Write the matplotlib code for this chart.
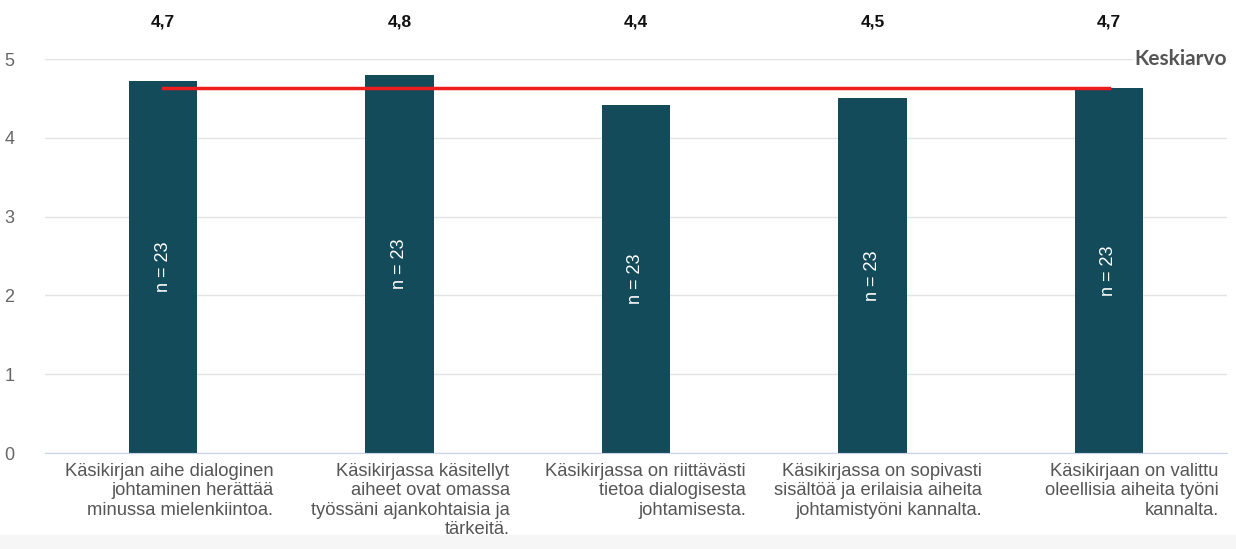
import matplotlib.pyplot as plt
from matplotlib.patches import Rectangle
import numpy as np

# --- DATA ---
kysymykset = [
    "Käsikirjan aihe dialoginen\njohtaminen herättää\nminussa mielenkiintoa.",
    "Käsikirjassa käsitellyt\naiheet ovat omassa\ntyössäni ajankohtaisia ja\ntärkeitä.",
    "Käsikirjassa on riittävästi\ntietoa dialogisesta\njohtamisesta.",
    "Käsikirjassa on sopivasti\nsisältöä ja erilaisia aiheita\njohtamistyöni kannalta.",
    "Käsikirjaan on valittu\noleellisia aiheita työni\nkannalta.",
]
arvot = [4.72, 4.80, 4.42, 4.51, 4.63]
arvo_tekstit = ["4,7", "4,8", "4,4", "4,5", "4,7"]
n_vastaajat = [23, 23, 23, 23, 23]
keskiarvo = 4.63

plt.rcParams['font.family'] = ['Liberation Sans', 'DejaVu Sans']

fig = plt.figure(figsize=(12.36, 5.49), dpi=100)
fig.patches.append(Rectangle((0, 0), 1, 14 / 549, transform=fig.transFigure,
                             color="#f6f6f6", zorder=0))
ax = fig.add_axes([45 / 1236, 1 - 453 / 549, 1182 / 1236, 394 / 549])

x = np.arange(len(arvot))
ax.bar(x, arvot, width=0.29, color="#134b5a", zorder=2)

# keskiarvoviiva
ax.plot([x[0], x[-1]], [keskiarvo, keskiarvo], color="#ee1c1c", lw=2.5, zorder=3)
ax.text(len(arvot) - 0.5, 5.0, "Keskiarvo", ha="right", va="center",
        fontsize=15, fontweight="bold", color="#555555", family="Lato",
        bbox=dict(facecolor="white", edgecolor="none", pad=1), zorder=4)

for i, (v, t, n) in enumerate(zip(arvot, arvo_tekstit, n_vastaajat)):
    ax.text(i, 5.47, t, ha="center", va="center", fontsize=12.5,
            fontweight="bold", color="#111111")
    ax.text(i, v / 2, f"n = {n}", ha="center", va="center", rotation=90,
            fontsize=13, color="white", zorder=4)
    ax.text(i + 0.465, -0.13, kysymykset[i], ha="right", va="top",
            fontsize=13.2, color="#555555", linespacing=1.17)

ax.set_xlim(-0.5, len(arvot) - 0.5)
ax.set_ylim(0, 5)
ax.set_yticks([0, 1, 2, 3, 4, 5])
ax.set_xticks([])
ax.tick_params(axis="y", length=0, labelsize=13, labelcolor="#666666", pad=22)
ax.grid(axis="y", color="#e3e3e3", lw=1, zorder=0)
for s in ["top", "right", "left"]:
    ax.spines[s].set_visible(False)
ax.spines["bottom"].set_color("#c8d2ea")
ax.spines["bottom"].set_zorder(3)

fig.savefig("out.png", dpi=100)
